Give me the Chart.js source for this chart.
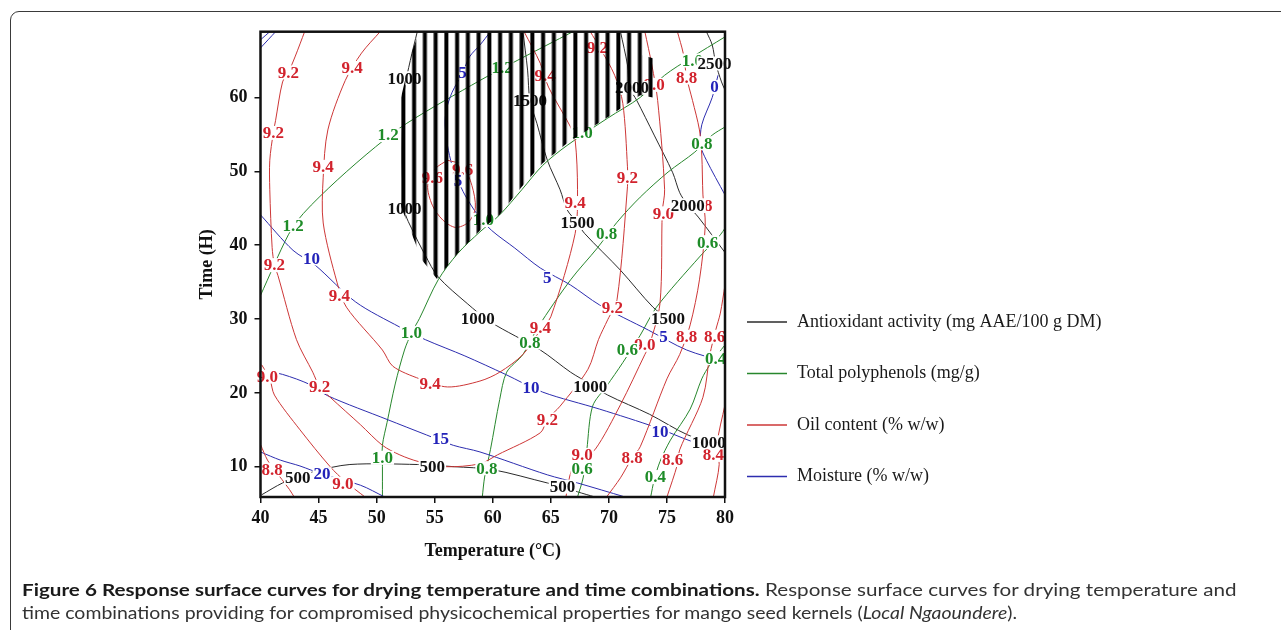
<!DOCTYPE html>
<html lang="en">
<head>
<meta charset="UTF-8">
<title>Figure 6</title>
<script src="https://cdn.jsdelivr.net/npm/chart.js@4.4.0/dist/chart.umd.min.js"></script>
<style>
  html, body { margin: 0; padding: 0; background: #fff; }
  body { width: 1281px; height: 630px; position: relative; overflow: hidden; }
  .frame { position: absolute; left: 10px; top: 11px; width: 1300px; height: 700px;
           border: 1.5px solid #3a3a3a; border-radius: 9px; }
  #chart { position: absolute; left: 0; top: 0; }
  .cap { position: absolute; left: 22px; font-family: Lato, "Open Sans", sans-serif; font-size: 17.5px;
         color: #333; white-space: nowrap; transform-origin: 0 50%; line-height: 22px; }
  .cap b { color: #1a1a1a; }
</style>
</head>
<body>
<div class="frame"></div>
<canvas id="chart" width="1281" height="630"></canvas>
<div class="cap" id="cap1" style="top:579px"><b>Figure 6 Response surface curves for drying temperature and time combinations.</b> Response surface curves for drying temperature and</div>
<div class="cap" id="cap2" style="top:602px">time combinations providing for compromised physicochemical properties for mango seed kernels (<i>Local Ngaoundere</i>).</div>

<script>
// axes
const xTicks = [40, 45, 50, 55, 60, 65, 70, 75, 80];
const yTicks = [10, 20, 30, 40, 50, 60];

// legend
const legendNames = ["Antioxidant activity (mg AAE/100 g DM)", "Total polyphenols (mg/g)", "Oil content (% w/w)", "Moisture (% w/w)"];

// Antioxidant activity contours [temperature, time]
const aox500 = [[40.1,6.2],[41.9,7.8],[43.2,8.5],[44.5,9.3],[47.7,10.3],[53.5,10.3],[56.7,10.0],[60.0,9.6],[64.7,7.8],[66.0,7.3],[67.3,6.6],[68.8,5.9]];
const aox1000 = [[53.5,68.9],[52.9,65.0],[52.4,61.0],[52.2,52.9],[52.3,46.1],[52.5,44.1],[53.0,42.3],[54.2,38.6],[55.3,35.7],[57.8,32.1],[59.8,29.6],[64.1,25.8],[66.7,22.8],[68.4,21.2],[69.9,19.7],[73.5,17.1],[76.8,14.3],[80.0,12.7]];
const aox1500 = [[62.6,68.9],[63.0,63.7],[63.2,59.6],[63.8,56.5],[64.7,51.5],[65.8,47.5],[66.4,44.8],[67.3,43.0],[67.9,41.6],[71.0,36.6],[73.8,31.6],[75.1,30.1],[76.3,29.2]];
const aox2000 = [[71.0,68.9],[71.6,64.4],[71.8,61.3],[72.4,59.6],[73.9,54.9],[75.5,49.8],[76.1,47.1],[76.8,45.4],[77.7,43.8],[80.0,39.0]];
const aox2500 = [[78.4,68.9],[78.9,67.1],[79.2,64.6],[79.7,62.1],[80.0,61.0]];

// Total polyphenols contours
const poly12 = [[40.0,33.2],[42.4,41.4],[43.7,44.3],[46.6,48.8],[49.9,53.3],[52.6,56.5],[58.9,62.3],[62.1,65.0],[66.9,68.9]];
const poly10 = [[50.5,5.9],[50.5,10.0],[50.5,12.9],[50.9,16.0],[51.6,21.2],[52.4,25.8],[53.0,28.1],[53.7,30.1],[55.3,35.3],[57.0,38.9],[58.9,41.8],[60.6,44.1],[62.5,47.5],[64.3,50.8],[66.4,53.5],[69.9,57.2],[72.7,60.0],[74.8,63.0],[77.0,65.3],[80.0,68.2]];
const poly08 = [[59.1,5.9],[59.3,8.6],[59.8,12.3],[60.6,19.1],[61.2,22.8],[62.6,25.2],[63.9,28.9],[66.7,35.3],[69.0,39.6],[70.7,43.1],[72.7,46.5],[75.1,49.9],[77.4,52.6],[78.9,54.9],[80.0,56.0]];
const poly06 = [[67.3,5.9],[67.8,8.6],[68.1,12.3],[68.6,18.2],[69.8,20.9],[71.2,24.1],[72.7,27.8],[74.1,31.6],[77.8,38.4],[79.6,41.4],[80.0,42.3]];
const poly04 = [[73.6,5.9],[73.9,8.2],[74.4,10.7],[75.3,13.6],[77.0,17.8],[78.0,21.9],[78.7,23.8],[80.0,26.5]];

// Oil content contours
const oil96 = [[56.1,51.5],[55.1,50.4],[54.4,48.1],[54.8,45.4],[55.7,43.4],[56.8,42.4],[57.9,43.1],[58.5,45.0],[58.2,48.1],[57.4,50.8],[56.1,51.5]];
const oil94 = [[50.3,68.9],[48.7,66.0],[47.3,62.3],[45.8,55.6],[45.4,49.2],[45.4,43.0],[46.6,34.9],[47.4,31.6],[50.5,25.8],[51.4,23.6],[53.7,21.9],[56.1,20.8],[58.9,21.6],[60.6,22.8],[62.6,25.2],[64.1,28.5],[65.0,30.3],[67.1,41.6],[67.3,47.5],[67.1,54.2],[66.7,56.0],[64.8,61.4],[64.1,64.6],[62.7,68.9]];
const oil92 = [[43.8,68.9],[43.0,65.6],[42.4,63.4],[41.9,62.1],[41.3,56.9],[41.1,55.2],[40.8,51.5],[40.8,47.5],[41.0,39.7],[41.2,37.3],[41.5,35.9],[43.1,27.2],[44.5,22.8],[45.1,20.8],[46.0,19.4],[48.6,15.7],[50.5,12.9],[52.0,11.6],[53.6,10.7],[55.9,10.0],[58.9,10.4],[60.4,11.6],[64.1,14.6],[64.7,16.4],[65.8,18.2],[68.2,23.2],[69.1,27.2],[69.9,29.9],[70.7,32.6],[71.6,47.9],[71.6,50.6],[71.2,59.2],[70.5,63.0],[69.2,66.8],[68.4,68.9]];
const oil90L = [[40.1,23.8],[40.8,21.9],[41.2,19.7],[43.4,15.0],[46.0,10.0],[47.3,8.0],[49.0,5.9]];
const oil90R = [[73.1,68.9],[73.7,64.4],[74.2,59.6],[74.8,47.5],[74.6,44.5],[74.4,32.1],[73.5,26.5],[73.1,25.2],[71.0,18.4],[68.8,12.3],[67.7,11.3],[66.8,9.6],[66.3,5.9]];
const oil88L = [[40.0,13.0],[40.6,10.9],[41.2,9.6],[42.5,6.9],[42.9,5.9]];
const oil88R = [[75.9,68.9],[76.4,66.0],[76.7,62.7],[77.2,59.6],[77.8,55.6],[78.0,52.2],[78.1,46.8],[78.3,42.7],[77.8,35.3],[77.0,29.2],[76.1,25.2],[75.0,21.9],[72.7,12.7],[72.0,11.2],[71.0,8.5],[69.8,5.9]];
const oil86 = [[80.0,34.6],[79.6,30.8],[79.2,28.5],[78.7,25.2],[78.1,19.4],[76.1,12.3],[75.9,10.3],[75.0,5.9]];
const oil84 = [[80.0,18.4],[79.3,12.9],[79.5,10.3],[79.0,5.9]];

// Moisture contours
const moist0 = [[79.4,63.0],[78.9,60.0],[78.0,56.3],[77.9,53.5],[78.4,51.5],[80.0,46.8]];
const moist5 = [[59.8,68.9],[58.9,67.1],[58.0,65.5],[57.4,63.3],[56.5,60.7],[56.0,58.3],[55.9,56.3],[56.1,53.5],[56.5,50.8],[57.0,48.8],[57.6,46.8],[58.7,44.1],[59.9,42.0],[61.9,39.6],[64.1,36.9],[66.7,34.6],[69.2,31.9],[73.4,28.5],[76.7,25.8],[80.0,24.2]];
const moist10 = [[40.0,44.1],[42.8,39.3],[44.7,37.3],[48.2,32.3],[52.0,28.9],[54.2,27.2],[57.6,25.0],[61.1,22.5],[64.3,20.1],[69.2,17.8],[74.1,15.3],[77.0,13.5],[80.0,12.0]];
const moist15 = [[40.2,23.0],[41.9,22.5],[44.3,21.1],[45.8,19.6],[50.9,16.4],[54.3,14.3],[56.6,12.9],[58.9,12.0],[64.7,8.9],[67.3,7.8],[71.4,5.9]];
const moist20 = [[40.0,12.0],[41.7,10.9],[43.4,10.1],[45.3,9.0],[48.6,7.5],[50.7,5.9]];
const moistTopA = [[40.0,66.7],[41.3,68.9]];
const moistTopB = [[40.0,67.8],[40.8,68.9]];

// contour labels [temperature, time, text]
const oilLabels = [
  [42.4,63.4,"9.2"],[41.1,55.2,"9.2"],[41.2,37.3,"9.2"],[45.1,20.8,"9.2"],[64.7,16.4,"9.2"],[70.3,31.5,"9.2"],[71.6,49.2,"9.2"],[69.0,66.8,"9.2"],
  [47.9,64.0,"9.4"],[45.4,50.6,"9.4"],[46.8,33.2,"9.4"],[54.6,21.2,"9.4"],[64.1,28.9,"9.4"],[67.1,45.7,"9.4"],[64.5,63.0,"9.4"],
  [54.8,49.2,"9.6"],[57.4,50.2,"9.6"],
  [40.6,22.2,"9.0"],[47.1,7.7,"9.0"],[73.9,61.7,"9.0"],[74.7,44.3,"9.0"],[73.1,26.5,"9.0"],[67.7,11.6,"9.0"],
  [41.0,9.6,"8.8"],[76.7,62.7,"8.8"],[78.0,45.3,"8.8"],[76.7,27.6,"8.8"],[72.0,11.2,"8.8"],
  [79.1,27.6,"8.6"],[75.5,10.9,"8.6"],
  [79.0,11.6,"8.4"]
];
const polyLabels = [
  [42.8,42.7,"1.2"],[51.0,54.9,"1.2"],[60.8,64.1,"1.2"],
  [50.5,11.2,"1.0"],[53.0,28.1,"1.0"],[59.2,43.4,"1.0"],[67.7,55.3,"1.0"],[77.2,65.0,"1.0"],
  [59.5,9.8,"0.8"],[63.2,26.8,"0.8"],[69.8,41.6,"0.8"],[78.0,53.8,"0.8"],
  [67.7,9.8,"0.6"],[71.6,25.8,"0.6"],[78.5,40.4,"0.6"],
  [74.0,8.6,"0.4"],[79.2,24.7,"0.4"]
];
const moistLabels = [
  [44.4,38.2,"10"],[63.3,20.7,"10"],[74.4,14.7,"10"],
  [57.4,63.3,"5"],[57.0,48.8,"5"],[64.7,35.6,"5"],[74.7,27.6,"5"],
  [55.5,13.8,"15"],[45.3,9.0,"20"],[79.1,61.4,"0"]
];
const aoxLabels = [
  [43.2,8.5,"500"],[54.8,10.0,"500"],[66.0,7.3,"500"],
  [52.4,62.6,"1000"],[52.4,45.0,"1000"],[58.7,30.1,"1000"],[68.4,20.9,"1000"],[78.6,13.3,"1000"],
  [63.2,59.6,"1500"],[67.3,43.0,"1500"],[75.1,30.1,"1500"],
  [72.0,61.3,"2000"],[76.8,45.4,"2000"],
  [79.1,64.6,"2500"]
];

// hatched region outline
const hatchX = [52.1,52.1,53.0,53.9,55.2,57.0,58.9,60.6,62.5,64.3,66.4,69.9,72.7,73.8,73.8,72.9,72.9,53.8,53.0];
const hatchY = [60.0,45.2,41.6,38.0,35.4,38.9,42.0,44.1,47.9,51.1,53.8,57.3,60.3,60.0,65.3,65.7,69.5,69.5,66.0];

const serif = "'Liberation Serif', 'Times New Roman', serif";
const colors = {
  aox:   { line: "#2b2b2b", text: "#111111" },
  poly:  { line: "rgb(40,135,45)", text: "rgb(30,140,40)" },
  oil:   { line: "rgb(205,55,55)", text: "rgb(210,35,45)" },
  moist: { line: "rgb(45,45,175)", text: "rgb(35,35,185)" }
};

const groups = [
  ["oil", [oil96, oil94, oil92, oil90L, oil90R, oil88L, oil88R, oil86, oil84]],
  ["moist", [moist0, moist5, moist10, moist15, moist20, moistTopA, moistTopB]],
  ["poly", [poly12, poly10, poly08, poly06, poly04]],
  ["aox", [aox500, aox1000, aox1500, aox2000, aox2500]]
];

const datasets = [];
groups.forEach(([key, curves]) => {
  curves.forEach(c => {
    datasets.push({
      data: c.map(p => ({ x: p[0], y: p[1] })),
      showLine: true,
      pointRadius: 0,
      borderWidth: 1,
      borderColor: colors[key].line,
      tension: 0.3,
      fill: false
    });
  });
});

// labels, hatch, frame and legend
const overlay = {
  id: "overlay",
  afterDatasetsDraw(chart) {
    const { ctx, chartArea: a, scales: { x, y } } = chart;
    ctx.save();
    ctx.font = "bold 17px " + serif;
    ctx.textAlign = "center";
    ctx.textBaseline = "middle";
    [[oilLabels, "oil"], [polyLabels, "poly"], [moistLabels, "moist"], [aoxLabels, "aox"]].forEach(([list, key]) => {
      list.forEach(([lx, ly, t]) => {
        const px = x.getPixelForValue(lx), py = y.getPixelForValue(ly);
        const w = ctx.measureText(t).width;
        ctx.fillStyle = "#fff";
        ctx.fillRect(px - w / 2 - 1, py - 7, w + 2, 14);
        ctx.fillStyle = colors[key].text;
        ctx.fillText(t, px, py + 1);
      });
    });
    ctx.restore();

    // vertical hatching
    const pc = document.createElement("canvas");
    pc.width = 43; pc.height = 4;
    const pctx = pc.getContext("2d");
    pctx.fillStyle = "#000";
    for (let i = 0; i < 4; i++) pctx.fillRect(i * 10.75, 0, 4, 4);
    const pat = ctx.createPattern(pc, "repeat");
    pat.setTransform(new DOMMatrix().translate(x.getPixelForValue(52.3) - 2, 0));
    ctx.save();
    ctx.beginPath();
    ctx.rect(a.left, a.top, a.right - a.left, a.bottom - a.top);
    ctx.clip();
    ctx.beginPath();
    hatchX.forEach((hx, i) => {
      const px = x.getPixelForValue(hx), py = y.getPixelForValue(hatchY[i]);
      if (i === 0) ctx.moveTo(px, py); else ctx.lineTo(px, py);
    });
    ctx.closePath();
    ctx.fillStyle = pat;
    ctx.fill();
    ctx.restore();
  },
  afterDraw(chart) {
    const { ctx, chartArea: a } = chart;
    ctx.save();
    ctx.strokeStyle = "#111";
    ctx.lineWidth = 2.5;
    ctx.strokeRect(a.left, a.top, a.right - a.left, a.bottom - a.top);

    const keys = ["aox", "poly", "oil", "moist"];
    ctx.font = "18px " + serif;
    ctx.textBaseline = "middle";
    ctx.textAlign = "left";
    legendNames.forEach((name, i) => {
      const ly = 322 + i * 51.5;
      ctx.strokeStyle = colors[keys[i]].line;
      ctx.lineWidth = 1.5;
      ctx.beginPath();
      ctx.moveTo(747, ly);
      ctx.lineTo(787, ly);
      ctx.stroke();
      ctx.fillStyle = "#1a1a1a";
      ctx.fillText(name, 797, ly);
    });
    ctx.restore();
  }
};

const tickFont = { family: serif, size: 18, weight: "bold" };
const titleFont = { family: serif, size: 18, weight: "bold" };

new Chart(document.getElementById("chart"), {
  type: "scatter",
  data: { datasets },
  options: {
    responsive: false,
    animation: false,
    events: [],
    layout: { padding: { left: 170.5, right: 556, top: 31.7, bottom: 63 } },
    plugins: { legend: { display: false }, tooltip: { enabled: false } },
    scales: {
      x: {
        type: "linear", min: 40, max: 80,
        afterBuildTicks: s => { s.ticks = xTicks.map(v => ({ value: v })); },
        afterFit: s => { s.height = 70; },
        grid: { drawOnChartArea: false, tickLength: 6, color: "#111", lineWidth: 1.5 },
        border: { display: false },
        ticks: { color: "#111", font: tickFont, padding: 5, maxRotation: 0, autoSkip: false },
        title: { display: true, text: "Temperature (°C)", color: "#111", font: titleFont, padding: { top: 0, bottom: 5 } }
      },
      y: {
        type: "linear", min: 5.9, max: 68.9,
        afterBuildTicks: s => { s.ticks = yTicks.map(v => ({ value: v })); },
        afterFit: s => { s.width = 90; },
        grid: { drawOnChartArea: false, tickLength: 6, color: "#111", lineWidth: 1.5 },
        border: { display: false },
        ticks: { color: "#111", font: tickFont, padding: 7, autoSkip: false },
        title: { display: true, text: "Time (H)", color: "#111", font: titleFont, padding: { top: 26, bottom: 0 } }
      }
    }
  },
  plugins: [overlay]
});

// fit caption lines to their printed widths
[["cap1", 1215], ["cap2", 995]].forEach(([id, target]) => {
  const el = document.getElementById(id);
  const s = target / el.scrollWidth;
  el.style.transform = "scaleX(" + s + ")";
});
</script>
</body>
</html>
